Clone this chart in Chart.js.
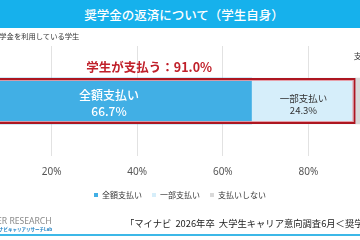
<!DOCTYPE html>
<html>
<head>
<meta charset="utf-8">
<script src="https://cdn.jsdelivr.net/npm/chart.js@4"></script>
<style>
  html, body { margin: 0; padding: 0; }
  body { width: 360px; height: 240px; overflow: hidden; position: relative; background: #fff;
         font-family: "Noto Sans CJK JP", "Noto Sans", sans-serif; }
  #wrap { position: absolute; left: -34px; top: 0; width: 428px; height: 240px; }
  #titulo { position: absolute; left: 0; top: 0; width: 360px; height: 28px; background: #16b1ec;
            color: #fff; font-size: 12.5px; font-weight: 500; line-height: 29px; text-align: center; padding-left: 8px; box-sizing: border-box; }
  #subtitulo { position: absolute; left: -8px; top: 31px; font-size: 7.3px; color: #333; white-space: nowrap; }
  #logo1 { position: absolute; left: -24px; top: 215px; font-family: "Noto Sans", sans-serif; font-size: 8.6px; color: #8a8a8a; white-space: nowrap; }
  #logo2 { position: absolute; left: -10px; top: 226px; font-size: 4.5px; color: #1b7fc3; white-space: nowrap; font-weight: 700; }
  #fuente { position: absolute; left: 125px; top: 216px; font-size: 9.3px; color: #222; white-space: nowrap; }
  #linea { position: absolute; left: 0; top: 234px; width: 360px; height: 2px; background: #3cb8e8; }
</style>
</head>
<body>
<div id="wrap"><canvas id="grafico"></canvas></div>
<div id="titulo">奨学金の返済について（学生自身）</div>
<div id="subtitulo"></div>
<div id="logo1">CAREER RESEARCH</div>
<div id="logo2">マイナビキャリアリサーチLab</div>
<div id="fuente">「マイナビ&nbsp;&nbsp;2026年卒&nbsp;&nbsp;大学生キャリア意向調査6月＜奨学金＞」</div>
<div id="linea"></div>
<script>
/* Datos del gráfico */
var categorias = ['奨学金を利用している学生'];
var series = ['全額支払い', '一部支払い', '支払いしない'];
var valorTotal = [66.7];
var valorParcial = [24.3];
var valorNada = [9.0];
var marcasEje = [0, 20, 40, 60, 80, 100];
var textoPaga = '学生が支払う：91.0%';

var colores = ['#41afe5', '#d6eefa', '#d9d9d9'];

document.getElementById('subtitulo').textContent = categorias[0];

/* Etiquetas de cada tramo y el recuadro rojo */
var etiquetas = {
    id: 'etiquetas',
    afterDatasetsDraw: function (chart) {
        var ctx = chart.ctx;
        var x = chart.scales.x;
        var b0 = chart.getDatasetMeta(0).data[0];
        var b1 = chart.getDatasetMeta(1).data[0];
        var b2 = chart.getDatasetMeta(2).data[0];
        var top = b0.y - b0.height / 2;
        var h = b0.height;
        ctx.save();
        ctx.textAlign = 'center';
        ctx.textBaseline = 'middle';

        // tramo 1
        ctx.fillStyle = '#fff';
        ctx.font = '500 12px "Noto Sans CJK JP"';
        var c0 = (b0.x + b0.base) / 2;
        ctx.fillText(series[0], c0, b0.y - 6);
        ctx.fillText(valorTotal[0].toFixed(1) + '%', c0, b0.y + 10);

        // tramo 2
        ctx.fillStyle = '#333';
        ctx.font = '9.5px "Noto Sans CJK JP"';
        var c1 = (b1.x + b1.base) / 2;
        ctx.fillText(series[1], c1, b1.y - 3);
        ctx.fillText(valorParcial[0].toFixed(1) + '%', c1, b1.y + 9);

        // tramo 3 (encima de la barra)
        ctx.font = '8px "Noto Sans CJK JP"';
        var c2 = (b2.x + b2.base) / 2 + 3;
        ctx.fillText(series[2], c2, top - 22);
        ctx.fillText(valorNada[0].toFixed(1) + '%', c2, top - 10);

        // recuadro rojo
        var x0 = x.getPixelForValue(0) - 2;
        var x1 = x.getPixelForValue(valorTotal[0] + valorParcial[0]);
        ctx.strokeStyle = '#ad1620';
        ctx.lineWidth = 2;
        ctx.strokeRect(x0, top + 1, x1 - 1 - x0, h - 2);
        ctx.strokeStyle = 'rgba(232,150,160,0.9)';
        ctx.lineWidth = 1;
        ctx.strokeRect(x0 + 2, top + 2.5, x1 - 4.5 - x0, h - 5);

        // texto rojo
        ctx.fillStyle = '#c0202a';
        ctx.font = '700 12.5px "Noto Sans CJK JP"';
        ctx.fillText(textoPaga, x.getPixelForValue(42.8), top - 11);
        ctx.restore();
    }
};

var marco = document.getElementById('grafico').getContext('2d');

var grafico = new Chart(marco, {
    type: 'bar',
    data: {
        labels: categorias,
        datasets: [
            { label: series[0], data: valorTotal, backgroundColor: colores[0] },
            { label: series[1], data: valorParcial, backgroundColor: colores[1] },
            { label: series[2], data: valorNada, backgroundColor: colores[2] }
        ]
    },
    options: {
        indexAxis: 'y',
        responsive: true,
        maintainAspectRatio: false,
        animation: false,
        devicePixelRatio: 1,
        datasets: { bar: { barThickness: 46 } },
        layout: { padding: { top: 46, bottom: 31, left: 0, right: 0 } },
        plugins: {
            tooltip: { enabled: false },
            legend: {
                position: 'bottom',
                labels: {
                    boxWidth: 4,
                    boxHeight: 4,
                    padding: 10,
                    color: '#333',
                    font: { size: 8, family: '"Noto Sans CJK JP"' }
                }
            }
        },
        scales: {
            x: {
                stacked: true,
                min: 0,
                max: 100,
                afterBuildTicks: function (scale) {
                    scale.ticks = marcasEje.map(function (v) { return { value: v }; });
                },
                afterFit: function (scale) {
                    scale.height = 25;
                    scale.paddingLeft = 0;
                    scale.paddingRight = 0;
                },
                border: { display: false },
                grid: { color: '#e2e2e2', drawTicks: false },
                ticks: {
                    padding: 10,
                    color: '#555',
                    font: { size: 10, family: '"Noto Sans"' },
                    callback: function (v) { return v + '%'; }
                }
            },
            y: {
                stacked: true,
                display: false
            }
        }
    },
    plugins: [etiquetas]
});
</script>
</body>
</html>
